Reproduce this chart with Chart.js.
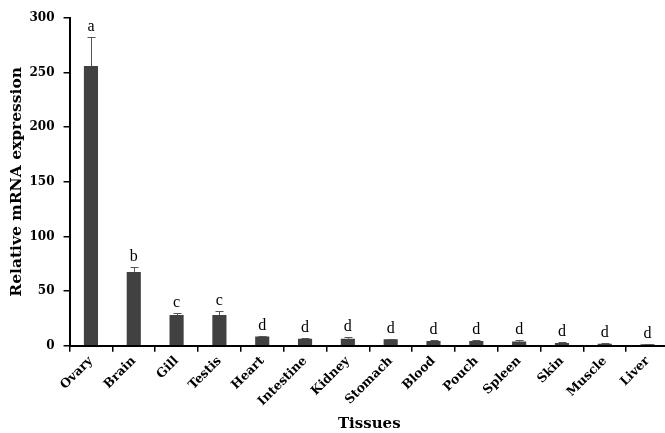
<!DOCTYPE html>
<html>
<head>
<meta charset="utf-8">
<script src="https://cdn.jsdelivr.net/npm/chart.js@4"></script>
<style>
html,body{margin:0;padding:0;background:#fff;overflow:hidden;}
#wrap{width:672px;height:437px;}
</style>
</head>
<body>
<div id="wrap"><canvas id="c" width="672" height="437"></canvas></div>
<script>
const categories = ["Ovary","Brain","Gill","Testis","Heart","Intestine","Kidney","Stomach","Blood","Pouch","Spleen","Skin","Muscle","Liver"];
const expression = [256, 67.5, 28, 28, 8.3, 6.3, 6.3, 5.8, 4.3, 4.3, 3.7, 2.4, 1.8, 1.2];
const errorsUp = [27, 4.5, 1.5, 4, 0.9, 0.8, 1.2, 0.4, 0.5, 0.5, 1.6, 1.2, 0.5, 0.4];
const groupLetters = ["a","b","c","c","d","d","d","d","d","d","d","d","d","d"];
const yTicks = [0, 50, 100, 150, 200, 250, 300];

const boldSerif = {family: "'DejaVu Serif', serif", weight: 'bold'};

const errorPlugin = {
  id: 'errorBars',
  afterDatasetsDraw(chart) {
    const ctx = chart.ctx;
    const meta = chart.getDatasetMeta(0);
    const ys = chart.scales.y;
    ctx.save();
    meta.data.forEach((bar, i) => {
      const x = bar.x;
      const yb = ys.getPixelForValue(expression[i]);
      const yt = ys.getPixelForValue(expression[i] + errorsUp[i]);
      ctx.strokeStyle = '#555555';
      ctx.lineWidth = 1;
      ctx.beginPath();
      ctx.moveTo(Math.round(x) + 0.5, yb);
      ctx.lineTo(Math.round(x) + 0.5, Math.round(yt) + 0.5);
      ctx.moveTo(Math.round(x) - 3.5, Math.round(yt) + 0.5);
      ctx.lineTo(Math.round(x) + 4.5, Math.round(yt) + 0.5);
      ctx.stroke();
      ctx.fillStyle = '#000';
      ctx.font = "16px 'Liberation Serif', serif";
      ctx.textAlign = 'center';
      ctx.textBaseline = 'alphabetic';
      ctx.fillText(groupLetters[i], x, yt - 6);
    });
    ctx.restore();
  }
};

new Chart(document.getElementById('c'), {
  type: 'bar',
  data: {
    labels: categories,
    datasets: [{
      data: expression,
      backgroundColor: '#414141',
      borderWidth: 0,
      barPercentage: 0.66,
      categoryPercentage: 0.5
    }]
  },
  options: {
    responsive: false,
    animation: false,
    devicePixelRatio: 1,
    layout: {padding: {top: 18, right: 3, left: 4, bottom: 0}},
    plugins: {legend: {display: false}, tooltip: {enabled: false}},
    scales: {
      x: {
        offset: true,
        grid: {display: true, drawOnChartArea: false, offset: true, tickLength: 6, color: '#000', lineWidth: 1.5},
        border: {display: true, color: '#000', width: 2},
        ticks: {color: '#000', font: {...boldSerif, size: 12.5}, maxRotation: 45, minRotation: 45, padding: 2, autoSkip: false},
        title: {display: true, text: 'Tissues', color: '#000', font: {...boldSerif, size: 15}, padding: {top: 4}}
      },
      y: {
        min: 0, max: 300,
        afterBuildTicks(axis) { axis.ticks = yTicks.map(v => ({value: v})); },
        grid: {display: true, drawOnChartArea: false, tickLength: 6, color: '#000', lineWidth: 1.5},
        border: {display: true, color: '#000', width: 2},
        ticks: {color: '#000', font: {...boldSerif, size: 12}, padding: 9},
        title: {display: true, text: 'Relative mRNA expression', color: '#000', font: {...boldSerif, size: 15.5, lineHeight: 1}, padding: {top: 5, bottom: -4}}
      }
    }
  },
  plugins: [errorPlugin]
});
</script>
</body>
</html>
